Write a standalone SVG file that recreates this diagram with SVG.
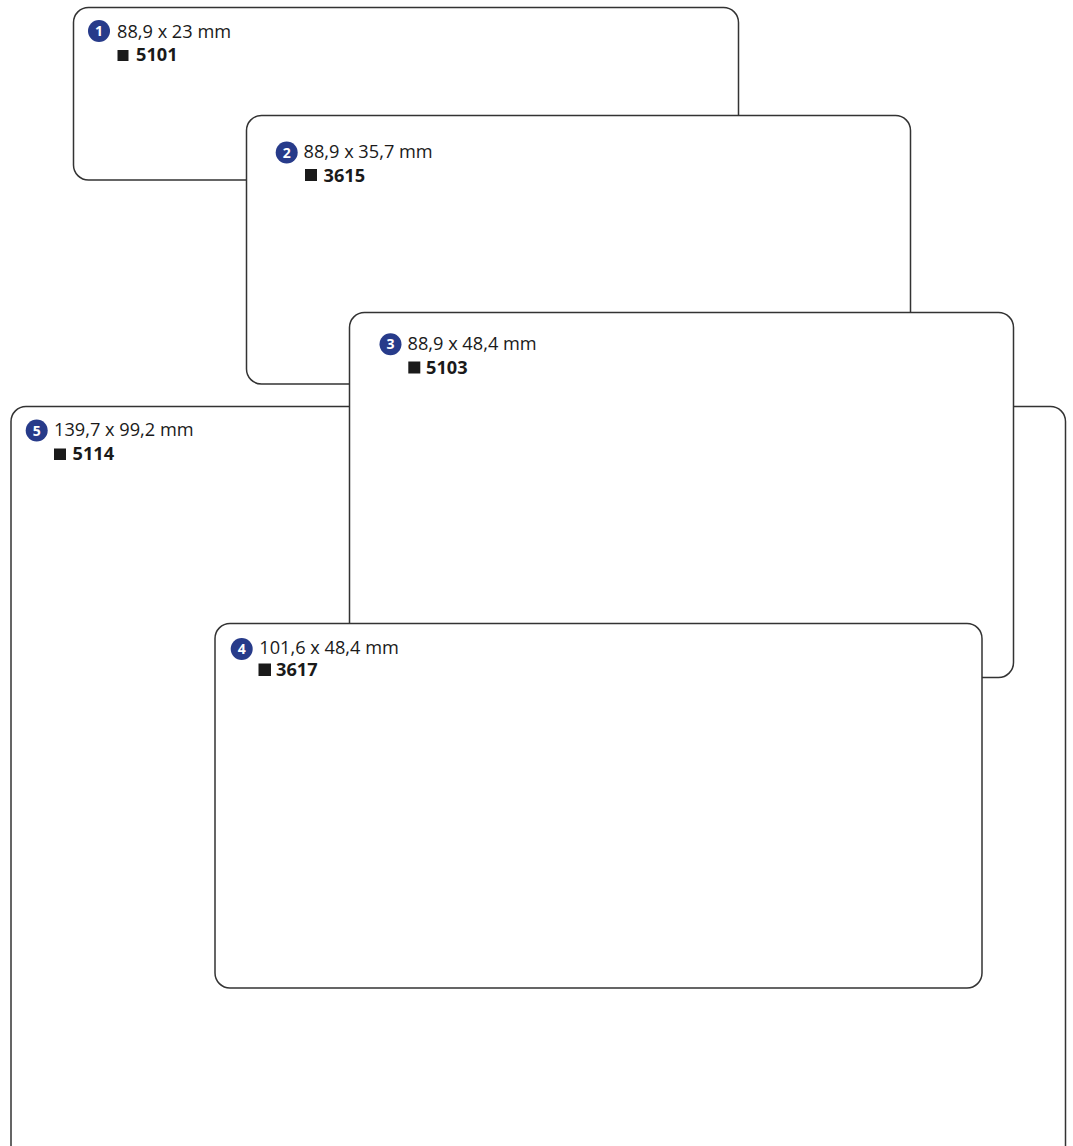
<svg xmlns="http://www.w3.org/2000/svg" width="1073" height="1146" viewBox="0 0 1073 1146">
<style>
.card{fill:#fff;stroke:#333;stroke-width:1.5}
.badge{fill:#273b8a}
.num{fill:#fff;font-family:"Open Sans","Noto Sans",sans-serif;font-weight:bold;font-size:14px;text-anchor:middle}
.dim{fill:#1a1a1a;font-family:"Open Sans","Noto Sans",sans-serif;font-size:18.2px}
.code{fill:#1a1a1a;font-family:"Open Sans","Noto Sans",sans-serif;font-size:18.2px;font-weight:bold}
.sq{fill:#1a1a1a}
</style>
<rect width="1073" height="1146" fill="#fff"/>
<g id="node1">
<rect class="card" x="73.5" y="7.5" width="665" height="172.5" rx="15"/>
<circle class="badge" cx="99" cy="31" r="11"/>
<text class="num" x="99" y="36">1</text>
<text class="dim" x="117" y="38">88,9 x 23 mm</text>
<rect class="sq" x="117.5" y="50" width="11" height="11"/>
<text class="code" x="136" y="61">5101</text>
</g>
<g id="node2">
<rect class="card" x="246.5" y="115.5" width="664" height="268.5" rx="15"/>
<circle class="badge" cx="286.7" cy="152.5" r="11"/>
<text class="num" x="286.7" y="157.5">2</text>
<text class="dim" x="303.5" y="157.5">88,9 x 35,7 mm</text>
<rect class="sq" x="305" y="169" width="12" height="12"/>
<text class="code" x="323.5" y="181.5">3615</text>
</g>
<g id="node5">
<rect class="card" x="11" y="406.5" width="1054.5" height="760" rx="15"/>
<circle class="badge" cx="36.7" cy="430.5" r="11"/>
<text class="num" x="36.7" y="435.5">5</text>
<text class="dim" x="54" y="436">139,7 x 99,2 mm</text>
<rect class="sq" x="54" y="448.5" width="12" height="11.5"/>
<text class="code" x="72.5" y="460">5114</text>
</g>
<g id="node3">
<rect class="card" x="349.5" y="312.5" width="664" height="365" rx="15"/>
<circle class="badge" cx="390.5" cy="344.2" r="11"/>
<text class="num" x="390.5" y="349.2">3</text>
<text class="dim" x="407.5" y="350">88,9 x 48,4 mm</text>
<rect class="sq" x="408.3" y="361.5" width="12" height="12"/>
<text class="code" x="426" y="373.5">5103</text>
</g>
<g id="node4">
<rect class="card" x="215" y="623.5" width="767" height="364.5" rx="15"/>
<circle class="badge" cx="241.7" cy="649" r="11"/>
<text class="num" x="241.7" y="654">4</text>
<text class="dim" x="259.3" y="653.5">101,6 x 48,4 mm</text>
<rect class="sq" x="258.5" y="663.5" width="12.5" height="12.5"/>
<text class="code" x="276" y="676">3617</text>
</g>
<g id="connectors"></g>
</svg>
